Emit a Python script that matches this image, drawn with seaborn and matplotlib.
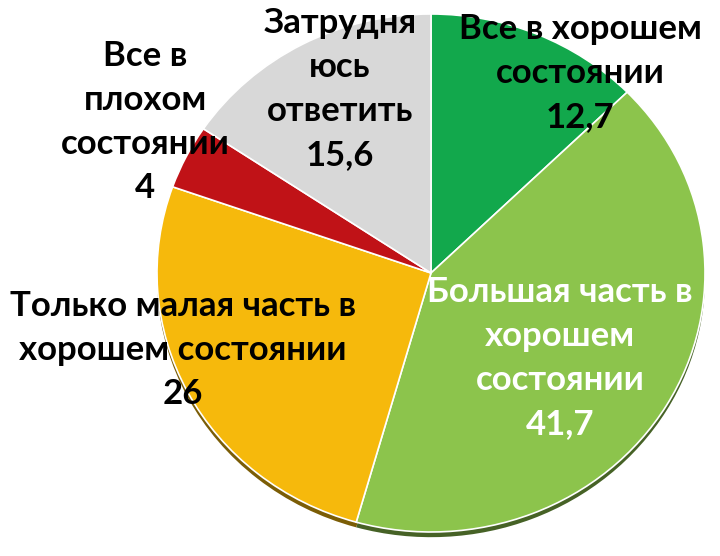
import numpy as np
import seaborn as sns
import matplotlib.pyplot as plt
import matplotlib.colors as mcolors


# Chart data
categories = [
    "Все в хорошем\nсостоянии",
    "Большая часть в\nхорошем\nсостоянии",
    "Только малая часть в\nхорошем состоянии",
    "Все в\nплохом\nсостоянии",
    "Затрудня\nюсь\nответить",
]
values = [12.7, 41.7, 26, 4, 15.6]
value_labels = ["12,7", "41,7", "26", "4", "15,6"]

colors = ["#12a84c", "#8cc44c", "#f6b90c", "#c01217", "#d8d8d8"]
text_colors = ["black", "white", "black", "black", "black"]

# Label centres in pixels of the figure (layout only)
label_px = [(580, 73), (560, 358), (183, 350), (145, 122), (340, 89)]

sns.set_theme(style="white")
plt.rcParams['font.family'] = ['Lato', 'Noto Sans', 'DejaVu Sans']

W, H = 720, 556
fig = plt.figure(figsize=(W / 100, H / 100), dpi=100)

# pie ellipse in pixels
cx, cy, rx, ry = 431, 273, 274, 259
ax = fig.add_axes([(cx - rx) / W, (H - cy - ry) / H, 2 * rx / W, 2 * ry / H])

# darker copy underneath for the 3d edge
dark = [tuple(np.array(mcolors.to_rgb(c)) * 0.5) for c in colors]
ax.pie(values, colors=dark, startangle=90, counterclock=False,
       center=(0, -0.02), radius=1.0,
       wedgeprops=dict(linewidth=0))
ax.pie(values, colors=colors, startangle=90, counterclock=False,
       radius=1.0,
       wedgeprops=dict(edgecolor="white", linewidth=1.2))

ax.set_aspect("auto")
ax.set_xlim(-1, 1)
ax.set_ylim(-1, 1)
ax.axis("off")

for cat, val, tc, (px, py) in zip(categories, value_labels, text_colors,
                                   label_px):
    x = (px - cx) / rx
    y = (cy - py) / ry
    ax.text(x, y, cat + "\n" + val, ha="center", va="center",
            color=tc, fontsize=25, fontweight="bold", linespacing=1.45,
            clip_on=False)

fig.savefig("out.png", dpi=100)
